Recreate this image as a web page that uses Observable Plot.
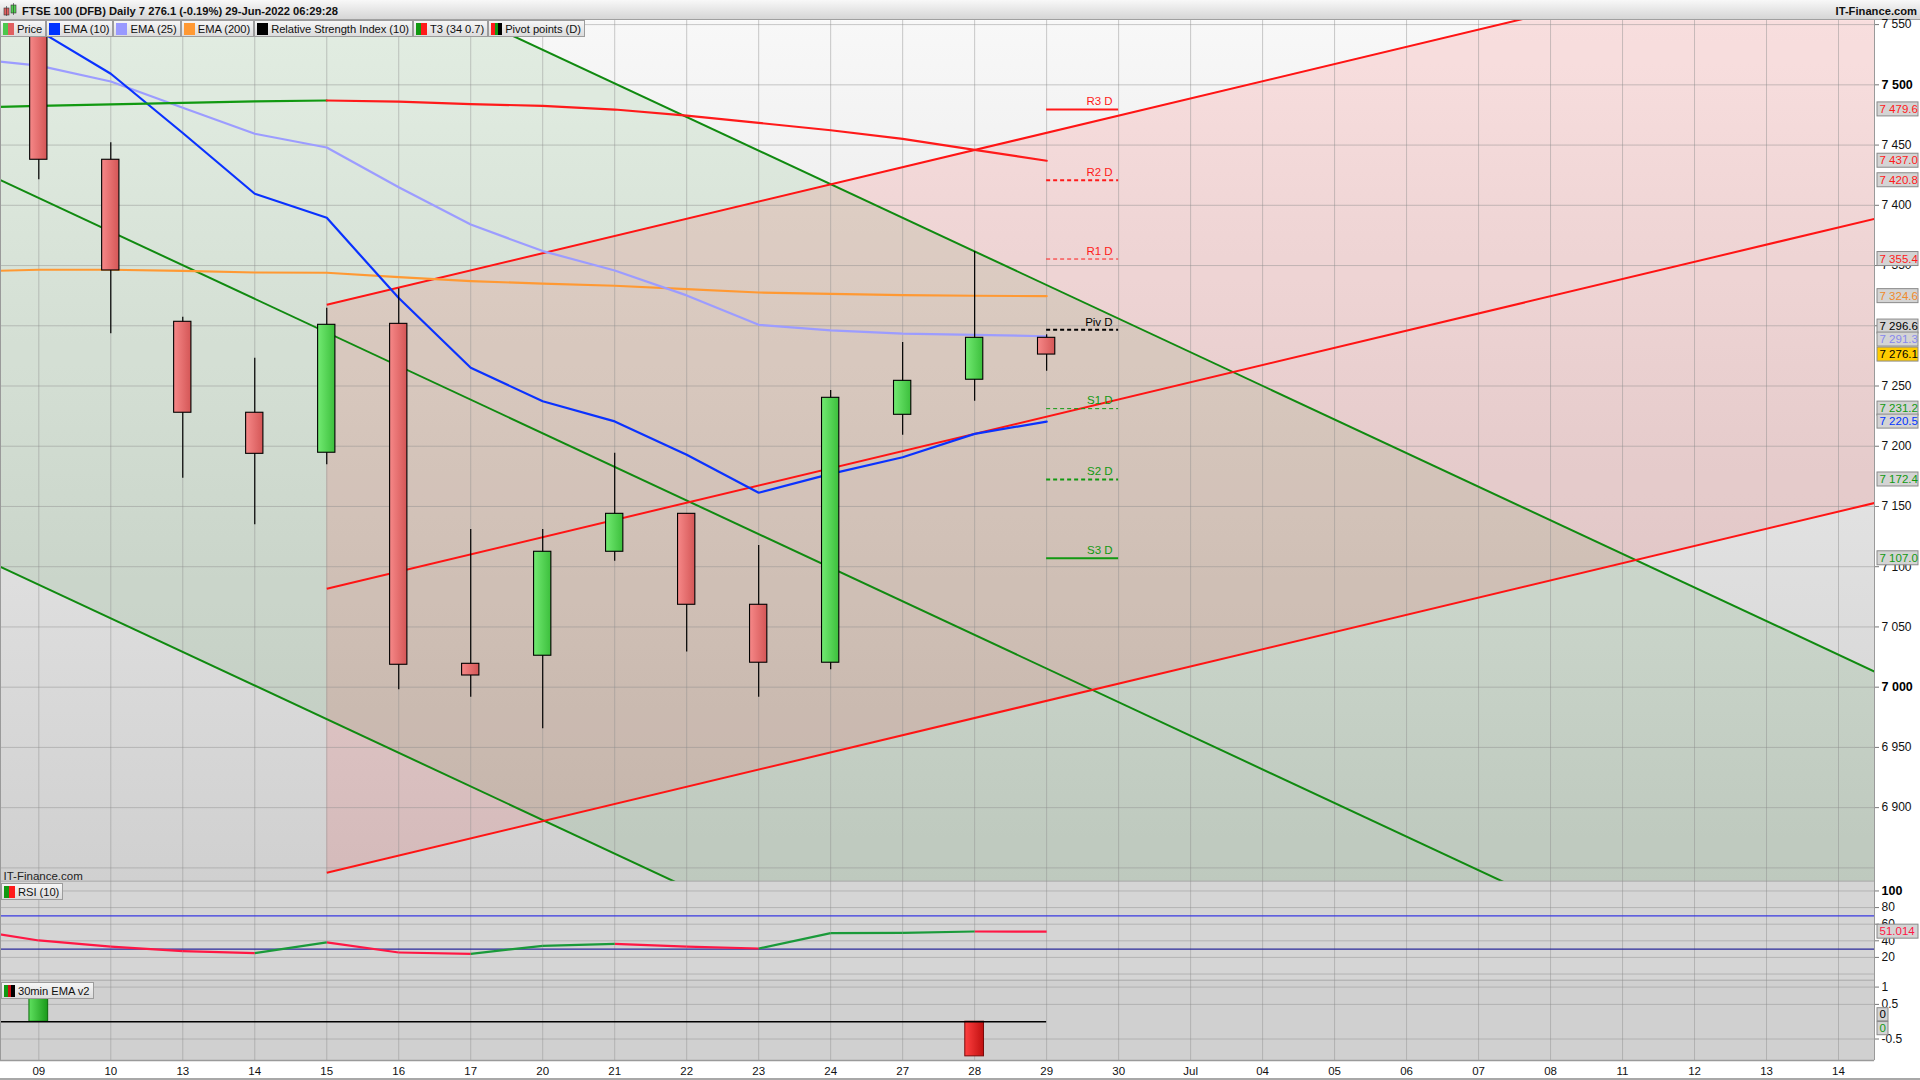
<!DOCTYPE html>
<html><head><meta charset="utf-8">
<script src="https://cdn.jsdelivr.net/npm/d3@7"></script>
<script src="https://cdn.jsdelivr.net/npm/@observablehq/plot@0.6"></script>
<style>
body{margin:0;width:1920px;height:1080px;overflow:hidden;background:#fff;font-family:"Liberation Sans",Arial,sans-serif;position:relative}
#title{position:absolute;left:0;top:0;width:1920px;height:19px;background:linear-gradient(#f8f8f8,#d6d6d6);border-bottom:1px solid #a0a0a0;font-weight:bold;font-size:11.2px;line-height:19px;color:#111}
#title .t{position:absolute;left:22px;top:2px}
#title .r{position:absolute;right:3px;top:2px}
#title .ic{position:absolute;left:3px;top:3px;width:14px;height:14px}
.panel{position:absolute;left:0}
.legend{position:absolute;display:flex;font-size:11.2px;color:#111;letter-spacing:-0.05px}
.lb{display:flex;align-items:center;height:15px;border:1px solid #9c9c9c;background:linear-gradient(#f6f6f6,#dcdcdc);padding:0 3px 0 2px;margin-right:0;white-space:nowrap}
.sw{display:inline-block;width:11px;height:12px;margin-right:3px}
#bottomline{position:absolute;left:0;top:1078px;width:1920px;height:2px;background:#a8a8a8}
</style></head>
<body>
<svg width="0" height="0" style="position:absolute">
<defs>
<linearGradient id="bgMain" x1="0" y1="0" x2="0" y2="1"><stop offset="0" stop-color="#f8f8f8"/><stop offset="1" stop-color="#d0d0d0"/></linearGradient>
<linearGradient id="gUp" x1="0" y1="0" x2="1" y2="0"><stop offset="0" stop-color="#72ea72"/><stop offset="1" stop-color="#3cbf3c"/></linearGradient>
<linearGradient id="gDn" x1="0" y1="0" x2="1" y2="0"><stop offset="0" stop-color="#f68888"/><stop offset="1" stop-color="#d45656"/></linearGradient>
<linearGradient id="bUp" x1="0" y1="0" x2="1" y2="0"><stop offset="0" stop-color="#5ee05e"/><stop offset="1" stop-color="#1a9a1a"/></linearGradient>
<linearGradient id="bDn" x1="0" y1="0" x2="1" y2="0"><stop offset="0" stop-color="#ff4040"/><stop offset="1" stop-color="#c01010"/></linearGradient>
</defs></svg>

<div id="title"><svg class="ic" viewBox="0 0 14 14"><rect x="1" y="5" width="5" height="7" fill="#e06060" stroke="#333" stroke-width="0.6"/><line x1="3.5" y1="3" x2="3.5" y2="13" stroke="#333" stroke-width="0.6"/><rect x="8" y="2" width="5" height="8" fill="#50d050" stroke="#333" stroke-width="0.6"/><line x1="10.5" y1="0" x2="10.5" y2="12" stroke="#333" stroke-width="0.6"/></svg><span class="t">FTSE 100 (DFB) Daily 7 276.1 (-0.19%) 29-Jun-2022 06:29:28</span><span class="r">IT-Finance.com</span></div>
<div id="main" class="panel" style="top:20px"></div>
<div id="rsi" class="panel" style="top:881px"></div>
<div id="ema" class="panel" style="top:980px"></div>
<div id="bottomline"></div>

<div class="legend" style="left:0;top:20px">
 <div class="lb"><span class="sw" style="background:linear-gradient(90deg,#4cc84c 50%,#e06060 50%)"></span>Price</div>
 <div class="lb"><span class="sw" style="background:#0033ff"></span>EMA (10)</div>
 <div class="lb"><span class="sw" style="background:#9999ff"></span>EMA (25)</div>
 <div class="lb"><span class="sw" style="background:#ff9933"></span>EMA (200)</div>
 <div class="lb"><span class="sw" style="background:#000"></span>Relative Strength Index (10)</div>
 <div class="lb"><span class="sw" style="background:linear-gradient(90deg,#119911 50%,#ff1a1a 50%)"></span>T3 (34 0.7)</div>
 <div class="lb"><span class="sw" style="background:linear-gradient(90deg,#ff1a1a 33%,#119911 33%,#119911 66%,#000 66%)"></span>Pivot points (D)</div>
</div>
<div class="legend" style="left:1px;top:883px"><div class="lb"><span class="sw" style="background:linear-gradient(90deg,#119911 50%,#ff1a1a 50%)"></span>RSI (10)</div></div>
<div class="legend" style="left:1px;top:982px"><div class="lb"><span class="sw" style="background:linear-gradient(90deg,#119911 33%,#cc1111 33%,#cc1111 66%,#000 66%)"></span>30min EMA v2</div></div>

<script>
// ---------- DATA ----------
const xLabels = ["09","10","13","14","15","16","17","20","21","22","23","24","27","28","29","30","Jul","04","05","06","07","08","11","12","13","14"];
const candleIdx = [0,1,2,3,4,5,6,7,8,9,10,11,12,13,14];
const openP  = [7580.0,7437.8,7303.3,7227.8,7194.6,7301.6,7019.4,7026.1,7112.4,7143.9,7068.4,7020.3,7226.1,7255.2,7290.0];
const highP  = [7600.0,7451.9,7307.1,7273.1,7314.6,7330.7,7130.9,7130.9,7194.2,7143.9,7117.6,7246.3,7286.1,7361.7,7292.5];
const lowP   = [7421.2,7293.4,7173.5,7134.8,7184.6,6997.8,6991.7,6965.5,7104.6,7029.1,6991.7,7014.4,7209.2,7237.4,7262.3];
const closeP = [7437.8,7345.9,7227.8,7193.7,7300.8,7018.6,7009.7,7112.4,7143.9,7068.4,7020.3,7240.2,7254.3,7290.0,7276.1];

const lineIdx = [-1,0,1,2,3,4,5,6,7,8,9,10,11,12,13,14];
const ema10  = [7600.0,7545.0,7509.2,7460.0,7409.6,7389.6,7323.0,7265.1,7237.4,7220.6,7192.9,7161.4,7177.1,7190.9,7210.3,7220.5];
const ema25  = [7522.0,7516.0,7502.8,7481.0,7459.4,7448.0,7415.0,7384.0,7362.0,7345.9,7325.2,7300.8,7296.1,7293.4,7292.5,7291.3];
const ema200 = [7345.0,7346.5,7346.5,7345.6,7344.2,7344.0,7340.3,7337.0,7335.0,7333.2,7330.4,7327.6,7326.5,7325.4,7324.9,7324.6];
const t3     = [7481.0,7482.6,7483.7,7485.0,7486.2,7487.0,7486.0,7484.0,7482.6,7479.5,7474.5,7468.4,7462.3,7455.1,7446.0,7437.0];
const rsi10  = [53.9,40.4,33.1,27.5,25.1,38.0,25.9,24.3,34.0,36.4,33.1,30.7,49.2,49.5,51.2,51.014];
const emaV2  = [1,0,0,0,0,0,0,0,0,0,0,0,0,-1,0];

const pivotNames  = ["R3 D","R2 D","R1 D","Piv D","S1 D","S2 D","S3 D"];
const pivotValues = [7479.6,7420.8,7355.4,7296.6,7231.2,7172.4,7107.0];
const pivotFrom = 14, pivotTo = 15;

// channel end points (x index, price)
const greenX      = [-0.532, 25.5];
const greenUpper  = [7739.2, 7013.0];
const greenMiddle = [7420.9, 6694.6];
const greenLower  = [7099.9, 6373.5];
const redX        = [4, 25.5];
const redUpper    = [7317.4, 7624.4];
const redMiddle   = [7081.7, 7388.8];
const redLower    = [6845.9, 7152.9];

const mainTicks = [6900,6950,7050,7100,7150,7200,7250,7300,7350,7400,7450,7550];
const mainBoldTicks = [7000,7500];
const mainGrid = [6850,6900,6950,7000,7050,7100,7150,7200,7250,7300,7350,7400,7450,7500,7550];
const rsiTicks = [80,60,40,20];
const rsiBoldTicks = [100];
const rsiGrid = [100,80,60,40,20,0];
const rsiLevels = [70,30];
const emaTicks = [1,0.5,-0.5];

// ---------- HELPERS ----------
const X0 = -0.532, X1 = 25.5, W = 1920, MR = 46;
const xDomain = [X0, X1];
const pxX = (X1 - X0) / (W - MR);   // index units per pixel
const xIdx = xLabels.map((_, i) => i);
const group3 = s => s.replace(/\B(?=(\d{3})+(?!\d))/g, " ");
const fmt = v => group3(String(v));
const fmt1 = v => { const [a, b] = v.toFixed(1).split("."); return group3(a) + "." + b; };
const FONT = "'Liberation Sans', Arial, sans-serif";

const candles = candleIdx.map((i, k) => ({i, o: openP[k], h: highP[k], l: lowP[k], c: closeP[k]}));
const up = candles.filter(d => d.c >= d.o), dn = candles.filter(d => d.c < d.o);
const series = arr => lineIdx.map((i, k) => ({i, v: arr[k]}));
const t3pts = series(t3);
const t3Green = t3pts.filter(d => d.i <= 4), t3Red = t3pts.filter(d => d.i >= 4);
const mkLine = (xs, ys) => ({x1: xs[0], y1: ys[0], x2: xs[1], y2: ys[1]});
const greenLines = [mkLine(greenX, greenUpper), mkLine(greenX, greenMiddle), mkLine(greenX, greenLower)];
const redLines = [mkLine(redX, redUpper), mkLine(redX, redMiddle), mkLine(redX, redLower)];
const greenArea = greenX.map((x, k) => ({x, lo: greenLower[k], hi: greenUpper[k]}));
const redArea = redX.map((x, k) => ({x, lo: redLower[k], hi: redUpper[k]}));

const pivots = pivotNames.map((name, k) => ({name, v: pivotValues[k], k}));
const pivotColor = k => k < 3 ? "#ff1a1a" : k === 3 ? "#000" : "#119911";
const pivotStyle = [
  {w: 2, dash: null}, {w: 2, dash: "4,3"}, {w: 1, dash: "4,3"}, {w: 2, dash: "4,3"},
  {w: 1, dash: "4,3"}, {w: 2, dash: "4,3"}, {w: 2, dash: null}
];

// right side value badges
const last = a => a[a.length - 1];
let badges = [
  {v: pivotValues[0], color: "#ff1a1a"},
  {v: last(t3), color: "#ff1a1a"},
  {v: pivotValues[1], color: "#ff1a1a"},
  {v: pivotValues[2], color: "#ff1a1a"},
  {v: last(ema200), color: "#f08a2a"},
  {v: pivotValues[3], color: "#000"},
  {v: last(ema25), color: "#8888ee"},
  {v: last(closeP), color: "#000", bg: "#ffcc00"},
  {v: pivotValues[4], color: "#119911"},
  {v: last(ema10), color: "#0033ff"},
  {v: pivotValues[5], color: "#119911"},
  {v: pivotValues[6], color: "#119911"}
];
const yMain = [6838.7, 7553.4], Hmain = 861;
const pxY = (yMain[1] - yMain[0]) / Hmain;
function spread(list, gapPx, unit) {
  const out = list.map(d => ({...d, p: d.v})).sort((a, b) => b.v - a.v);
  const gap = gapPx * unit;
  for (let it = 0; it < 30; it++) {
    for (let k = 1; k < out.length; k++) {
      const diff = out[k - 1].p - out[k].p;
      if (diff < gap) { const m = (gap - diff) / 2; out[k - 1].p += m; out[k].p -= m; }
    }
  }
  return out;
}
badges = spread(badges, 13, pxY);

function badgeMarks(list, unit, textFmt) {
  const h = 7 * unit;
  return [
    Plot.rect(list, {x1: X1 + 3 * pxX, x2: X1 + 44 * pxX, y1: d => d.p - h, y2: d => d.p + h,
      fill: d => d.bg ? "#ffcc00" : "#d4d4d4", stroke: "#8a8a8a", strokeWidth: 1}),
    Plot.text(list, {x: X1, y: "p", dx: 5, text: d => textFmt(d.v), textAnchor: "start",
      fill: "color", fontSize: 11.5})
  ];
}

// ---------- MAIN PANEL ----------
const main = Plot.plot({
  width: W, height: Hmain, marginLeft: 0, marginRight: MR, marginTop: 0, marginBottom: 0,
  x: {type: "linear", domain: xDomain, axis: null},
  y: {domain: yMain},
  color: {type: "identity"},
  style: {fontFamily: FONT, fontSize: "11px", background: "transparent", overflow: "visible"},
  marks: [
    Plot.frame({fill: "url(#bgMain)", stroke: null}),
    Plot.areaY(greenArea, {x: "x", y1: "lo", y2: "hi", fill: "#008000", fillOpacity: 0.085, clip: true}),
    Plot.areaY(redArea, {x: "x", y1: "lo", y2: "hi", fill: "#ff0000", fillOpacity: 0.1, clip: true}),
    Plot.ruleX(xIdx, {stroke: "#8c8c8c", strokeOpacity: 0.45}),
    Plot.ruleY(mainGrid, {stroke: "#8c8c8c", strokeOpacity: 0.45}),
    Plot.link(greenLines, {x1: "x1", y1: "y1", x2: "x2", y2: "y2", stroke: "#108a10", strokeWidth: 2, clip: true}),
    Plot.link(redLines, {x1: "x1", y1: "y1", x2: "x2", y2: "y2", stroke: "#ff1414", strokeWidth: 2, clip: true}),
    Plot.line(series(ema200), {x: "i", y: "v", stroke: "#ff9933", strokeWidth: 2.2, clip: true}),
    Plot.line(series(ema25), {x: "i", y: "v", stroke: "#9c9cff", strokeWidth: 2.2, clip: true}),
    Plot.line(series(ema10), {x: "i", y: "v", stroke: "#0a32ff", strokeWidth: 2.2, clip: true}),
    Plot.line(t3Green, {x: "i", y: "v", stroke: "#119911", strokeWidth: 2.2, clip: true}),
    Plot.line(t3Red, {x: "i", y: "v", stroke: "#ff1a1a", strokeWidth: 2.2, clip: true}),
    Plot.ruleX(candles, {x: "i", y1: "l", y2: "h", stroke: "#000", strokeWidth: 1.2, clip: true}),
    Plot.rect(up, {x1: d => d.i - 0.12, x2: d => d.i + 0.12, y1: "o", y2: "c", fill: "url(#gUp)", stroke: "#000", strokeWidth: 1.1, clip: true}),
    Plot.rect(dn, {x1: d => d.i - 0.12, x2: d => d.i + 0.12, y1: "c", y2: "o", fill: "url(#gDn)", stroke: "#000", strokeWidth: 1.1, clip: true}),
    ...pivots.map(p => Plot.ruleY([p], {y: "v", x1: pivotFrom, x2: pivotTo, stroke: pivotColor(p.k),
      strokeWidth: pivotStyle[p.k].w, strokeDasharray: pivotStyle[p.k].dash})),
    Plot.text(pivots, {x: pivotTo, y: "v", text: "name", dx: -6, dy: -8, textAnchor: "end",
      fill: d => pivotColor(d.k), fontSize: 11.5}),
    Plot.ruleX([X0], {stroke: "#9a9a9a"}),
    Plot.ruleX([X1], {stroke: "#9a9a9a"}),
    Plot.ruleY([yMain[0]], {stroke: "#9a9a9a", strokeWidth: 1.5}),
    Plot.axisY(mainTicks, {anchor: "right", tickSize: 4, tickPadding: 3, tickFormat: fmt, fontSize: 12, stroke: "#777", fill: "#111"}),
    Plot.axisY(mainBoldTicks, {anchor: "right", tickSize: 4, tickPadding: 3, tickFormat: fmt, fontSize: 12.5, fontWeight: "bold", stroke: "#777", fill: "#000"}),
    ...badgeMarks(badges, pxY, fmt1),
    Plot.text(["IT-Finance.com"], {frameAnchor: "bottom-left", dx: 3, dy: -2, fontSize: 11.5, fill: "#222", textAnchor: "start"})
  ]
});
document.getElementById("main").append(main);

// ---------- RSI PANEL ----------
const yRsi = [-7.8, 111.4], Hrsi = 99;
const rsiPts = series(rsi10);
const rsiSegs = rsiPts.slice(1).map((d, k) => ({x1: rsiPts[k].i, y1: rsiPts[k].v, x2: d.i, y2: d.v, up: d.v >= rsiPts[k].v}));
const rsiUnit = (yRsi[1] - yRsi[0]) / Hrsi;
const rsiBadge = spread([{v: last(rsi10), color: "#ff1744"}], 13, rsiUnit);
const rsiPlot = Plot.plot({
  width: W, height: Hrsi, marginLeft: 0, marginRight: MR, marginTop: 0, marginBottom: 0,
  x: {type: "linear", domain: xDomain, axis: null},
  y: {domain: yRsi},
  style: {fontFamily: FONT, fontSize: "11px", background: "transparent", overflow: "visible"},
  marks: [
    Plot.frame({fill: "#d5d5d5", stroke: null}),
    Plot.ruleX(xIdx, {stroke: "#8c8c8c", strokeOpacity: 0.45}),
    Plot.ruleY(rsiGrid, {stroke: "#8c8c8c", strokeOpacity: 0.45}),
    Plot.ruleY([rsiLevels[0]], {stroke: "#3838e0", strokeWidth: 1.2}),
    Plot.ruleY([rsiLevels[1]], {stroke: "#2a2a9a", strokeWidth: 1.2}),
    Plot.link(rsiSegs.filter(d => !d.up), {x1: "x1", y1: "y1", x2: "x2", y2: "y2", stroke: "#ff1744", strokeWidth: 2.2, clip: true}),
    Plot.link(rsiSegs.filter(d => d.up), {x1: "x1", y1: "y1", x2: "x2", y2: "y2", stroke: "#1a9a3a", strokeWidth: 2.2, clip: true}),
    Plot.ruleX([X0], {stroke: "#9a9a9a"}),
    Plot.ruleX([X1], {stroke: "#9a9a9a"}),
    Plot.ruleY([yRsi[0]], {stroke: "#9a9a9a", strokeWidth: 1.5}),
    Plot.axisY(rsiTicks, {anchor: "right", tickSize: 4, tickPadding: 3, fontSize: 12, stroke: "#777", fill: "#111"}),
    Plot.axisY(rsiBoldTicks, {anchor: "right", tickSize: 4, tickPadding: 3, fontSize: 12.5, fontWeight: "bold", stroke: "#777", fill: "#000"}),
    Plot.rect(rsiBadge, {x1: X1 + 3 * pxX, x2: X1 + 44 * pxX, y1: d => d.p - 7 * rsiUnit, y2: d => d.p + 7 * rsiUnit, fill: "#d4d4d4", stroke: "#8a8a8a"}),
    Plot.text(rsiBadge, {x: X1, y: "p", dx: 5, text: d => d.v.toFixed(3), textAnchor: "start", fill: d => d.color, fontSize: 11.5})
  ]
});
document.getElementById("rsi").append(rsiPlot);

// ---------- 30min EMA v2 PANEL ----------
const yEma = [-1.12, 1.19], Hema = 100;
const bars = candleIdx.map((i, k) => ({i, v: emaV2[k]})).filter(d => d.v !== 0);
const emaBadges = [{v: 0, p: 0.2, color: "#000"}, {v: 0, p: -0.2, color: "#119911"}];
const emaPlot = Plot.plot({
  width: W, height: Hema, marginLeft: 0, marginRight: MR, marginTop: 0, marginBottom: 20,
  x: {type: "linear", domain: xDomain},
  y: {domain: yEma},
  style: {fontFamily: FONT, fontSize: "11px", background: "transparent", overflow: "visible"},
  marks: [
    Plot.frame({fill: "#d0d0d0", stroke: null}),
    Plot.ruleX(xIdx, {stroke: "#8c8c8c", strokeOpacity: 0.45}),
    Plot.ruleY(emaTicks, {stroke: "#8c8c8c", strokeOpacity: 0.45}),
    Plot.rect(bars.filter(d => d.v > 0), {x1: d => d.i - 0.13, x2: d => d.i + 0.13, y1: 0, y2: "v", fill: "url(#bUp)", stroke: "#0d6a0d", clip: true}),
    Plot.rect(bars.filter(d => d.v < 0), {x1: d => d.i - 0.13, x2: d => d.i + 0.13, y1: 0, y2: "v", fill: "url(#bDn)", stroke: "#7a0a0a", clip: true}),
    Plot.ruleY([0], {x1: X0, x2: pivotFrom, stroke: "#000", strokeWidth: 1.5}),
    Plot.ruleX([X0], {stroke: "#9a9a9a"}),
    Plot.ruleX([X1], {stroke: "#9a9a9a"}),
    Plot.ruleY([yEma[0]], {stroke: "#9a9a9a", strokeWidth: 1.5}),
    Plot.axisY(emaTicks, {anchor: "right", tickSize: 4, tickPadding: 3, tickFormat: d => String(d), fontSize: 12, stroke: "#777", fill: "#111"}),
    Plot.rect(emaBadges, {x1: X1 + 3 * pxX, x2: X1 + 14 * pxX, y1: d => d.p - 0.19, y2: d => d.p + 0.19, fill: "#d4d4d4", stroke: "#8a8a8a"}),
    Plot.text(emaBadges, {x: X1, y: "p", dx: 5, text: d => String(d.v), textAnchor: "start", fill: d => d.color, fontSize: 11.5}),
    Plot.axisX(xIdx, {tickSize: 0, tickPadding: 6, tickFormat: i => xLabels[i], fontSize: 11.5, fill: "#111"})
  ]
});
document.getElementById("ema").append(emaPlot);
</script>
</body></html>
